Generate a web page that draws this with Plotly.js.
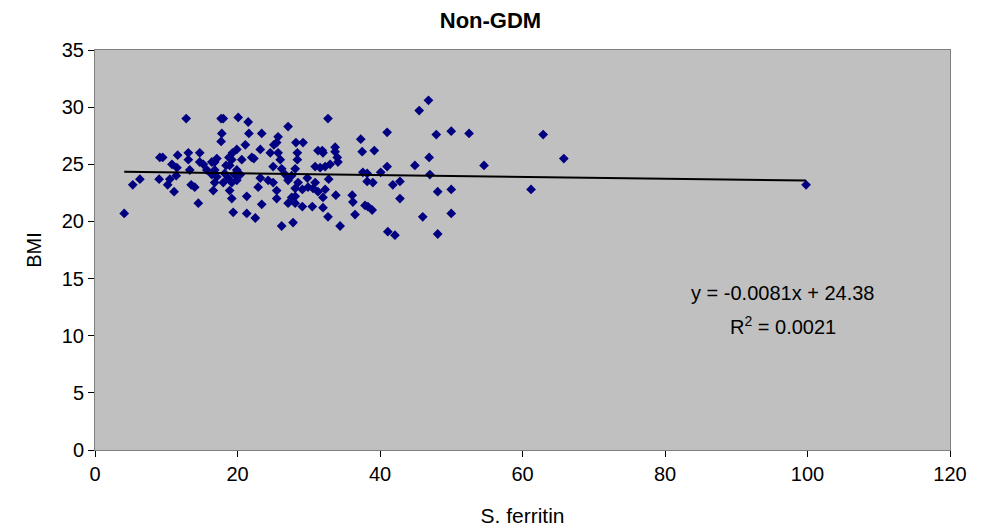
<!DOCTYPE html>
<html>
<head>
<meta charset="utf-8">
<script src="https://cdn.plot.ly/plotly-3.0.1.min.js"></script>
<style>html,body{margin:0;padding:0;background:#fff}#chart{width:981px;height:530px}</style>
</head>
<body>
<div id="chart"></div>
<script>
// S. ferritin (x) and BMI (y) values
var ferritin = [
  12.8,9.1,9.5,11.6,13.1,13.1,10.8,11.5,11.4,9.0,6.3,5.3,10.5,10.2,11.1,13.5,4.1,
  17.7,18.0,20.1,21.5,17.8,21.6,17.7,21.1,14.7,19.9,19.3,22.0,22.3,14.7,15.2,16.4,17.1,16.8,18.8,19.2,20.6,18.4,18.9,15.7,16.8,19.9,13.3,16.4,17.1,18.2,18.7,19.6,20.4,16.8,18.0,19.2,19.9,14.0,16.6,18.9,19.2,21.3,14.5,19.4,21.3,22.5,
  27.1,23.4,25.7,25.5,25.1,28.2,29.2,23.2,24.6,25.7,26.0,28.4,28.4,31.3,25.0,26.2,28.1,30.9,23.2,24.3,25.0,26.7,27.1,27.6,28.5,29.8,30.9,22.9,25.5,28.1,29.1,29.9,30.6,31.3,28.1,25.5,27.6,27.1,28.1,29.1,30.5,23.4,26.2,27.8,
  32.7,37.3,37.5,39.2,31.9,32.0,33.7,33.7,34.0,34.1,33.0,32.3,31.6,37.6,38.2,40.1,38.2,39.0,32.8,32.3,32.0,33.8,36.1,36.2,32.0,37.9,38.3,38.9,32.7,36.5,34.4,
  46.8,45.5,41.0,47.9,50.0,52.5,41.0,44.9,46.9,47.0,41.8,42.8,42.8,48.1,50.0,46.0,50.0,41.1,42.1,48.1,
  54.6,62.9,65.8,61.2,99.8
];
var bmi = [
  29.0,25.6,25.6,25.8,26.0,25.4,25.0,24.7,24.0,23.7,23.7,23.2,23.7,23.2,22.6,23.2,20.7,
  29.0,29.0,29.1,28.7,27.7,27.7,27.0,26.7,26.0,26.3,26.0,25.6,25.5,25.2,25.0,25.2,25.5,25.2,25.6,25.4,25.4,24.9,24.9,24.5,24.5,24.5,24.5,24.1,23.9,24.2,23.8,24.1,24.1,23.4,23.4,23.4,23.6,23.0,22.7,22.7,22.0,22.2,21.6,20.8,20.7,20.3,
  28.3,27.7,27.4,26.9,26.7,26.9,26.9,26.3,26.0,26.0,25.4,26.0,25.4,26.2,24.8,24.6,24.6,24.8,23.8,23.6,23.4,24.1,23.6,24.0,23.4,23.8,23.4,23.0,22.7,22.9,22.8,23.0,22.9,22.6,22.2,22.0,22.1,21.6,21.6,21.3,21.3,21.5,19.6,19.9,
  29.0,27.2,26.1,26.2,26.2,26.0,26.5,26.1,25.6,25.2,25.0,24.8,24.7,24.3,24.2,24.3,23.5,23.4,23.7,22.8,22.1,22.3,22.3,21.7,21.2,21.4,21.3,21.0,20.4,20.6,19.6,
  30.6,29.7,27.8,27.6,27.9,27.7,24.8,24.9,25.6,24.1,23.2,23.5,22.0,22.6,22.8,20.4,20.7,19.1,18.8,18.9,
  24.9,27.6,25.5,22.8,23.2
];
// Linear trendline (as printed on the chart)
var trendSlope = -0.0081;
var trendIntercept = 24.38;
var trendX = [Math.min.apply(null, ferritin), Math.max.apply(null, ferritin)];
var trendY = trendX.map(function (x) { return trendSlope * x + trendIntercept; });
var xTicks = [0, 20, 40, 60, 80, 100, 120];
var yTicks = [0, 5, 10, 15, 20, 25, 30, 35];

var FONT = 'Liberation Sans, Arial, sans-serif';

var traces = [
  {
    type: 'scatter', mode: 'markers', x: ferritin, y: bmi,
    marker: { symbol: 'diamond', color: '#000080', size: 7.5, line: { width: 0 } },
    hoverinfo: 'x+y', showlegend: false
  },
  {
    type: 'scatter', mode: 'lines', x: trendX, y: trendY,
    line: { color: '#000000', width: 2 }, hoverinfo: 'skip', showlegend: false
  }
];

var layout = {
  width: 981, height: 530,
  margin: { l: 95, r: 31, t: 50, b: 80 },
  paper_bgcolor: '#ffffff',
  plot_bgcolor: '#c0c0c0',
  font: { family: FONT, color: '#000000', size: 20 },
  title: { text: '<b>Non-GDM</b>', x: 0.5, xanchor: 'center', y: 0.962, yanchor: 'middle', font: { family: FONT, size: 22, color: '#000' } },
  xaxis: {
    range: [0, 120], tickvals: xTicks, ticktext: xTicks.map(String),
    ticks: 'outside', ticklen: 6, tickcolor: '#000', tickwidth: 1,
    showline: true, linecolor: '#808080', linewidth: 1, mirror: true,
    showgrid: false, zeroline: false,
    tickfont: { family: FONT, size: 20, color: '#000' },
    title: { text: 'S. ferritin', font: { family: FONT, size: 21, color: '#000' }, standoff: 24 }
  },
  yaxis: {
    range: [0, 35], tickvals: yTicks, ticktext: yTicks.map(String),
    ticks: 'outside', ticklen: 6, tickcolor: '#000', tickwidth: 1,
    showline: true, linecolor: '#808080', linewidth: 1, mirror: true,
    showgrid: false, zeroline: false,
    tickfont: { family: FONT, size: 20, color: '#000' },
    title: { text: 'BMI', font: { family: FONT, size: 20, color: '#000' }, standoff: 14 }
  },
  annotations: [
    { x: 96.5, y: 13.7, xref: 'x', yref: 'y', text: 'y = ' + trendSlope + 'x + ' + trendIntercept.toFixed(2),
      showarrow: false, xanchor: 'center', yanchor: 'middle', font: { family: FONT, size: 20, color: '#000' } },
    { x: 96.5, y: 10.9, xref: 'x', yref: 'y', text: 'R<sup>2</sup> = 0.0021',
      showarrow: false, xanchor: 'center', yanchor: 'middle', font: { family: FONT, size: 20, color: '#000' } }
  ]
};

Plotly.newPlot('chart', traces, layout, { displayModeBar: false, staticPlot: true });
</script>
</body>
</html>
